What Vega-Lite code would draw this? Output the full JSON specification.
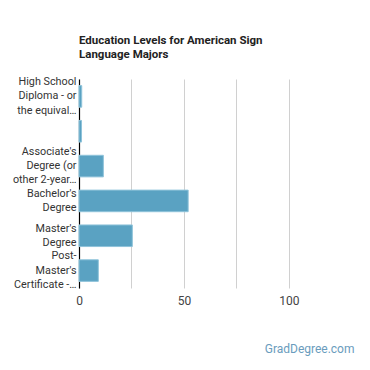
{
  "$schema": "https://vega.github.io/schema/vega-lite/v6.json",
  "autosize": {"type": "none"},
  "width": 275,
  "height": 209,
  "padding": {"left": 79, "top": 79, "right": 16, "bottom": 82},
  "background": "white",
  "title": {
    "text": ["Education Levels for American Sign", "Language Majors"],
    "anchor": "start",
    "frame": "group",
    "font": "Roboto",
    "fontSize": 11.5,
    "fontWeight": "bold",
    "color": "#222222",
    "lineHeight": 14.5,
    "offset": 15
  },
  "data": {
    "values": [
      {"level": "High School|Diploma - or|the equival…", "pct": 1.3},
      {"level": " ", "pct": 1.2},
      {"level": "Associate's|Degree (or|other 2-year…", "pct": 11.6},
      {"level": "Bachelor's|Degree", "pct": 52},
      {"level": "Master's|Degree", "pct": 25.4},
      {"level": "Post-|Master's|Certificate -…", "pct": 9.2}
    ]
  },
  "mark": {"type": "bar", "color": "#5aa2c2", "stroke": "#8fc3da", "strokeWidth": 1},
  "encoding": {
    "y": {
      "field": "level",
      "type": "nominal",
      "sort": null,
      "scale": {"paddingInner": 0.38, "paddingOuter": 0.19},
      "axis": {
        "title": null,
        "labelExpr": "split(datum.label, '|')",
        "labelFont": "Roboto",
        "labelFontSize": 10.8,
        "labelColor": "#333333",
        "labelLineHeight": 14.3,
        "labelPadding": 3,
        "labelOffset": {"expr": "-(length(split(datum.value, '|')) - 1) * 7.15"},
        "ticks": false,
        "domainColor": "#000000",
        "domainWidth": 1.2,
        "labelLimit": 80
      }
    },
    "x": {
      "field": "pct",
      "type": "quantitative",
      "scale": {"domain": [0, 131], "nice": false},
      "axis": {
        "title": "GradDegree.com",
        "titleAnchor": "end",
        "titleAlign": "right",
        "titleFont": "Roboto",
        "titleFontSize": 12,
        "titleFontWeight": "normal",
        "titleColor": "#6a9cbd",
        "titlePadding": 37,
        "values": [0, 25, 50, 75, 100],
        "labelExpr": "datum.value % 50 === 0 ? datum.label : ''",
        "labelFlush": false,
        "labelFont": "Roboto",
        "labelFontSize": 12,
        "labelColor": "#444444",
        "labelPadding": 7,
        "ticks": false,
        "domain": false,
        "grid": true,
        "gridColor": "#d0d0d0"
      }
    }
  },
  "config": {"view": {"stroke": null}}
}
